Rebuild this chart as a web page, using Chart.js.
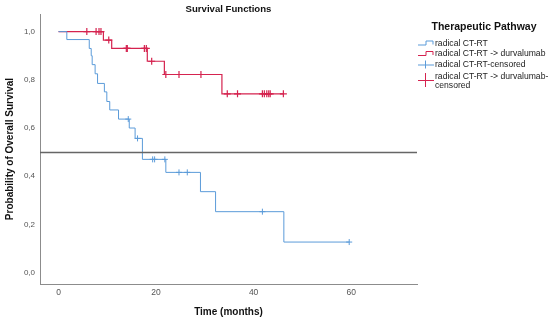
<!DOCTYPE html>
<html><head><meta charset="utf-8">
<script src="https://cdn.jsdelivr.net/npm/chart.js@4/dist/chart.umd.min.js"></script>
<style>html,body{margin:0;padding:0;background:#fff}#wrap{width:550px;height:322px;position:relative}</style>
</head><body><div id="wrap"><canvas id="c" width="550" height="322"></canvas></div>
<script>
const chartTitle = 'Survival Functions';
const legendTitle = 'Therapeutic Pathway';
const xTitle = 'Time (months)';
const yTitle = 'Probability of Overall Survival';
const seriesLabels = ['radical CT-RT', 'radical CT-RT -> durvalumab', 'radical CT-RT-censored', ['radical CT-RT -> durvalumab-', 'censored']];
const xTicks = [0, 20, 40, 60];
const yTicks = [0, 0.2, 0.4, 0.6, 0.8, 1.0];
const refLine = 0.5;

// radical CT-RT (step points: time, survival after event)
const blueTimes = [0, 1.7, 6.3, 6.7, 6.9, 7.5, 8.0, 9.4, 9.9, 10.5, 12.3, 14.5, 15.7, 17.2, 22.0, 29.1, 32.2, 46.2, 59.6];
const blueSurv  = [1.0, 0.967, 0.93, 0.90, 0.863, 0.825, 0.785, 0.75, 0.71, 0.675, 0.637, 0.60, 0.557, 0.47, 0.416, 0.336, 0.253, 0.127, 0.127];
const blueCensTimes = [14.3, 16.2, 19.3, 19.7, 21.8, 24.7, 26.4, 41.8, 59.6];
const blueCensSurv  = [0.637, 0.557, 0.47, 0.47, 0.47, 0.416, 0.416, 0.253, 0.127];

// radical CT-RT -> durvalumab
const redTimes = [0, 9.2, 10.9, 18.2, 21.7, 33.5, 46.1];
const redSurv  = [1.0, 0.965, 0.93, 0.877, 0.822, 0.742, 0.742];
const redCensTimes = [5.8, 7.7, 8.3, 8.7, 10.3, 13.9, 14.1, 17.6, 18.0, 19.1, 22.0, 24.7, 29.2, 34.6, 36.7, 41.8, 42.2, 42.7, 43.1, 43.4, 46.1];
const redCensSurv  = [1, 1, 1, 1, 0.965, 0.93, 0.93, 0.93, 0.93, 0.877, 0.822, 0.822, 0.822, 0.742, 0.742, 0.742, 0.742, 0.742, 0.742, 0.742, 0.742];

const BLUE = '#5b9bd9';
const RED = '#d5234f';
const FONT = '"Liberation Sans", Arial, sans-serif';

const pts = (xs, ys) => xs.map((x, i) => ({x: x, y: ys[i]}));

const overlay = {
  id: 'overlay',
  afterDatasetsDraw(chart) {
    const ctx = chart.ctx, xs = chart.scales.x, ys = chart.scales.y;
    ctx.save();
    const yp = Math.round(ys.getPixelForValue(refLine)) + 0.5;
    ctx.strokeStyle = '#666';
    ctx.lineWidth = 1.4;
    ctx.beginPath(); ctx.moveTo(xs.left, yp); ctx.lineTo(xs.right, yp); ctx.stroke();
    ctx.restore();
  },
  afterDraw(chart) {
    const ctx = chart.ctx, xs = chart.scales.x;
    ctx.save();
    ctx.fillStyle = '#111';
    ctx.textAlign = 'center';
    ctx.textBaseline = 'middle';
    ctx.font = 'bold 9.6px ' + FONT;
    ctx.fillText(chartTitle, (xs.left + xs.right) / 2, 9);
    // legend
    ctx.font = 'bold 10.5px ' + FONT;
    ctx.fillText(legendTitle, 484, 27);
    ctx.textAlign = 'left';
    ctx.font = '8.6px ' + FONT;
    ctx.fillStyle = '#222';
    const ds = chart.data.datasets;
    const rows = [43.5, 54, 64.5, 76.5];
    const ix = 418, tx = 435;
    ds.forEach((d, i) => {
      const y = rows[i];
      const lines = Array.isArray(d.label) ? d.label : [d.label];
      lines.forEach((t, k) => ctx.fillText(t, tx, y + k * 9.5));
      ctx.strokeStyle = d.borderColor;
      ctx.lineWidth = 1;
      ctx.beginPath();
      if (d.kind === 'line') {
        ctx.moveTo(ix, y + 1.5); ctx.lineTo(ix + 8, y + 1.5);
        ctx.lineTo(ix + 8, y - 2.5); ctx.lineTo(ix + 15, y - 2.5);
        ctx.lineTo(ix + 15, y + 1);
      } else {
        const cy = lines.length > 1 ? y + 3.5 : y;
        const h = lines.length > 1 ? 7 : 4;
        ctx.moveTo(ix, cy + 0.5); ctx.lineTo(ix + 16, cy + 0.5);
        ctx.moveTo(ix + 7.5, cy - h); ctx.lineTo(ix + 7.5, cy + h);
      }
      ctx.stroke();
    });
    ctx.restore();
  }
};

new Chart(document.getElementById('c'), {
  type: 'line',
  data: {
    datasets: [
      {label: seriesLabels[0], kind: 'line', data: pts(blueTimes, blueSurv), borderColor: BLUE, borderWidth: 1, stepped: true, pointRadius: 0, fill: false},
      {label: seriesLabels[1], kind: 'line', data: pts(redTimes, redSurv), borderColor: RED, borderWidth: 1.2, stepped: true, pointRadius: 0, fill: false},
      {label: seriesLabels[2], kind: 'cens', data: pts(blueCensTimes, blueCensSurv), borderColor: BLUE, showLine: false, pointStyle: 'cross', pointRadius: 3, borderWidth: 1, pointBorderWidth: 1},
      {label: seriesLabels[3], kind: 'cens', data: pts(redCensTimes, redCensSurv), borderColor: RED, showLine: false, pointStyle: 'cross', pointRadius: 3.5, borderWidth: 1, pointBorderWidth: 1.2}
    ]
  },
  options: {
    responsive: false,
    animation: false,
    events: [],
    layout: {padding: {top: 14, right: 133, left: 0, bottom: 0}},
    plugins: {legend: {display: false}, title: {display: false}, tooltip: {enabled: false}},
    scales: {
      x: {
        type: 'linear', min: -3.8, max: 73.5,
        afterBuildTicks: s => { s.ticks = xTicks.map(v => ({value: v})); },
        afterFit: s => { s.height = 38; s.paddingLeft = 0; s.paddingRight = 0; },
        grid: {display: false, drawTicks: false, tickLength: 0},
        border: {display: true, color: '#8c8c8c', width: 1},
        ticks: {padding: 4, color: '#555', font: {family: FONT, size: 8.5}, maxRotation: 0},
        title: {display: true, text: xTitle, color: '#111', font: {family: FONT, size: 10, weight: 'bold'}, padding: {top: 4, bottom: 4}}
      },
      y: {
        type: 'linear', min: -0.047, max: 1.073,
        afterBuildTicks: s => { s.ticks = yTicks.map(v => ({value: v})); },
        afterFit: s => { s.width = 40; s.paddingTop = 0; s.paddingBottom = 0; },
        grid: {display: false, drawTicks: false, tickLength: 0},
        border: {display: true, color: '#8c8c8c', width: 1},
        ticks: {padding: 5, color: '#555', font: {family: FONT, size: 8}, callback: v => v.toFixed(1).replace('.', ',')},
        title: {display: true, text: yTitle, color: '#111', font: {family: FONT, size: 10, weight: 'bold'}, padding: {top: 4, bottom: 4}}
      }
    }
  },
  plugins: [overlay]
});
</script>
</body></html>
